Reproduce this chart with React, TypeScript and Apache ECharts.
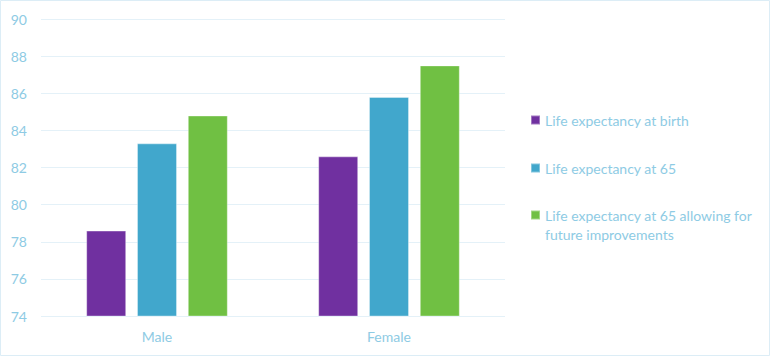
import React, { useEffect, useRef } from "react";
import * as echarts from "echarts";

const categories = ["Male", "Female"];
const birth = [78.6, 82.6];
const at65 = [83.3, 85.8];
const at65Improve = [84.8, 87.5];
const seriesNames = [
  "Life expectancy at birth",
  "Life expectancy at 65",
  "Life expectancy at 65 allowing for future improvements",
];

const textColor = "#8ecbe4";
const fontFamily = "Lato, 'Open Sans', sans-serif";

export default function App() {
  const ref = useRef<HTMLDivElement>(null);
  useEffect(() => {
    document.body.style.margin = "0";
    const chart = echarts.init(ref.current!, null, { renderer: "svg" });
    const colors = ["#7030a0", "#41a7cc", "#70c043"];
    const values = [birth, at65, at65Improve];
    const legendTops = [110.5, 158.5, 186.5];
    chart.setOption({
      animation: false,
      textStyle: { fontFamily },
      grid: { left: 41, right: 265, top: 19, bottom: 40, containLabel: false },
      graphic: [
        {
          type: "rect",
          shape: { x: 0.5, y: 0.5, width: 769, height: 355 },
          style: { fill: "none", stroke: "#dcedf6", lineWidth: 1 },
          silent: true,
        },
      ],
      legend: seriesNames.map((name, i) => ({
        orient: "vertical",
        left: 530,
        top: legendTops[i],
        padding: 0,
        itemWidth: 9,
        itemHeight: 9,
        icon: "rect",
        selectedMode: false,
        data: [name],
        formatter: (n: string) =>
          n === seriesNames[2]
            ? " \nLife expectancy at 65 allowing for\nfuture improvements"
            : n,
        textStyle: {
          color: textColor,
          fontSize: 14,
          lineHeight: 19,
          fontFamily,
        },
      })),
      xAxis: {
        type: "category",
        data: categories,
        axisLine: { show: false },
        axisTick: { show: false },
        axisLabel: { color: textColor, fontSize: 14, margin: 13, fontFamily },
      },
      yAxis: {
        type: "value",
        min: 74,
        max: 90,
        interval: 2,
        axisLine: { show: false },
        axisTick: { show: false },
        axisLabel: { color: textColor, fontSize: 14, margin: 14, fontFamily },
        splitLine: { lineStyle: { color: "#e4f1f8", width: 1 } },
      },
      series: seriesNames.map((name, i) => ({
        name,
        type: "bar",
        data: values[i],
        barWidth: 40,
        barGap: "27%",
        itemStyle: {
          color: colors[i],
          borderColor: "rgba(255,255,255,0.35)",
          borderWidth: 1,
        },
      })),
    });
    return () => chart.dispose();
  }, []);
  return <div ref={ref} style={{ width: 770, height: 356 }} />;
}
